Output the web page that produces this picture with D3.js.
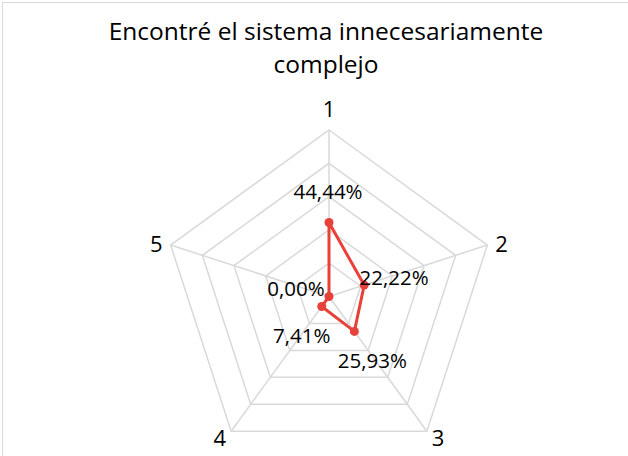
<!DOCTYPE html>
<html>
<head>
<meta charset="utf-8">
<script src="https://cdn.jsdelivr.net/npm/d3@7"></script>
<style>
  html, body { margin: 0; padding: 0; background: #fff; }
  svg { display: block; font-family: "Open Sans", sans-serif; }
</style>
</head>
<body>
<svg id="chart" width="628" height="456"></svg>
<script>
// data
var categories = [ "1", "2", "3", "4", "5" ];
var values = [ 0.4444, 0.2222, 0.2593, 0.0741, 0.0000 ];
var valueLabels = [ "44,44%", "22,22%", "25,93%", "7,41%", "0,00%" ];
var ringLevels = [ 0.2, 0.4, 0.6, 0.8, 1.0 ];
var titleLines = [ "Encontré el sistema innecesariamente", "complejo" ];

// layout
var cx = 329, cy = 296.5, radius = 166.5;
var red = "#e8413a";
var grid = "#d9d9d9";
// where each data label sits relative to its point (centre of text)
var labelOffsets = [ [ -1, -31 ], [ 30, -7 ], [ 18, 29 ], [ -20, 29 ], [ -33, -8 ] ];

var svg = d3.select( "#chart" );

svg.append( "rect" )
    .attr( "x", 2.5 ).attr( "y", 2.5 )
    .attr( "width", 640 ).attr( "height", 470 )
    .attr( "fill", "none" )
    .attr( "stroke", grid )
    .attr( "stroke-width", 1 );

var r = d3.scaleLinear().domain( [ 0, 1 ] ).range( [ 0, radius ] );
var step = 2 * Math.PI / categories.length;

function pos( i, v ) {
    var a = i * step;
    return [ cx + r( v ) * Math.sin( a ), cy - r( v ) * Math.cos( a ) ];
}

var g = svg.append( "g" );

// rings
g.selectAll( ".ring" )
    .data( ringLevels )
    .enter().append( "polygon" )
    .attr( "class", "ring" )
    .attr( "points", function( lv ) {
        return categories.map( function( c, i ) {
            return pos( i, lv ).join( "," );
        } ).join( " " );
    } )
    .attr( "fill", "none" )
    .attr( "stroke", grid )
    .attr( "stroke-width", 1.5 );

// spokes
g.selectAll( ".spoke" )
    .data( categories )
    .enter().append( "line" )
    .attr( "class", "spoke" )
    .attr( "x1", cx ).attr( "y1", cy )
    .attr( "x2", function( d, i ) { return pos( i, 1 )[ 0 ]; } )
    .attr( "y2", function( d, i ) { return pos( i, 1 )[ 1 ]; } )
    .attr( "stroke", grid )
    .attr( "stroke-width", 1.5 );

// category labels
g.selectAll( ".cat" )
    .data( categories )
    .enter().append( "text" )
    .attr( "class", "cat" )
    .attr( "font-size", 22 )
    .attr( "fill", "#000" )
    .each( function( d, i ) {
        var p = pos( i, 1 );
        var t = d3.select( this ).text( d );
        if ( i === 0 ) {
            t.attr( "x", p[ 0 ] ).attr( "y", p[ 1 ] - 13 ).attr( "text-anchor", "middle" );
        } else if ( i === 1 ) {
            t.attr( "x", p[ 0 ] + 8 ).attr( "y", p[ 1 ] + 7 ).attr( "text-anchor", "start" );
        } else if ( i === 4 ) {
            t.attr( "x", p[ 0 ] - 8 ).attr( "y", p[ 1 ] + 7 ).attr( "text-anchor", "end" );
        } else if ( i === 2 ) {
            t.attr( "x", p[ 0 ] + 5 ).attr( "y", p[ 1 ] + 15 ).attr( "text-anchor", "start" );
        } else {
            t.attr( "x", p[ 0 ] - 5 ).attr( "y", p[ 1 ] + 15 ).attr( "text-anchor", "end" );
        }
    } );

// series
var line = d3.line()
    .x( function( d, i ) { return pos( i, d )[ 0 ]; } )
    .y( function( d, i ) { return pos( i, d )[ 1 ]; } )
    .curve( d3.curveLinearClosed );

g.append( "path" )
    .datum( values )
    .attr( "d", line )
    .attr( "fill", "none" )
    .attr( "stroke", red )
    .attr( "stroke-width", 3 )
    .attr( "stroke-linejoin", "round" );

g.selectAll( ".dot" )
    .data( values )
    .enter().append( "circle" )
    .attr( "class", "dot" )
    .attr( "cx", function( d, i ) { return pos( i, d )[ 0 ]; } )
    .attr( "cy", function( d, i ) { return pos( i, d )[ 1 ]; } )
    .attr( "r", 4.5 )
    .attr( "fill", red );

g.selectAll( ".vlab" )
    .data( values )
    .enter().append( "text" )
    .attr( "class", "vlab" )
    .attr( "x", function( d, i ) { return pos( i, d )[ 0 ] + labelOffsets[ i ][ 0 ]; } )
    .attr( "y", function( d, i ) { return pos( i, d )[ 1 ] + labelOffsets[ i ][ 1 ]; } )
    .attr( "dy", "0.35em" )
    .attr( "text-anchor", "middle" )
    .attr( "font-size", 20.5 )
    .attr( "fill", "#000" )
    .text( function( d, i ) { return valueLabels[ i ]; } );

// title
svg.selectAll( ".title" )
    .data( titleLines )
    .enter().append( "text" )
    .attr( "class", "title" )
    .attr( "x", 326 )
    .attr( "y", function( d, i ) { return 40 + i * 33; } )
    .attr( "text-anchor", "middle" )
    .attr( "font-size", 24.5 )
    .attr( "fill", "#000" )
    .text( function( d ) { return d; } );
</script>
</body>
</html>
